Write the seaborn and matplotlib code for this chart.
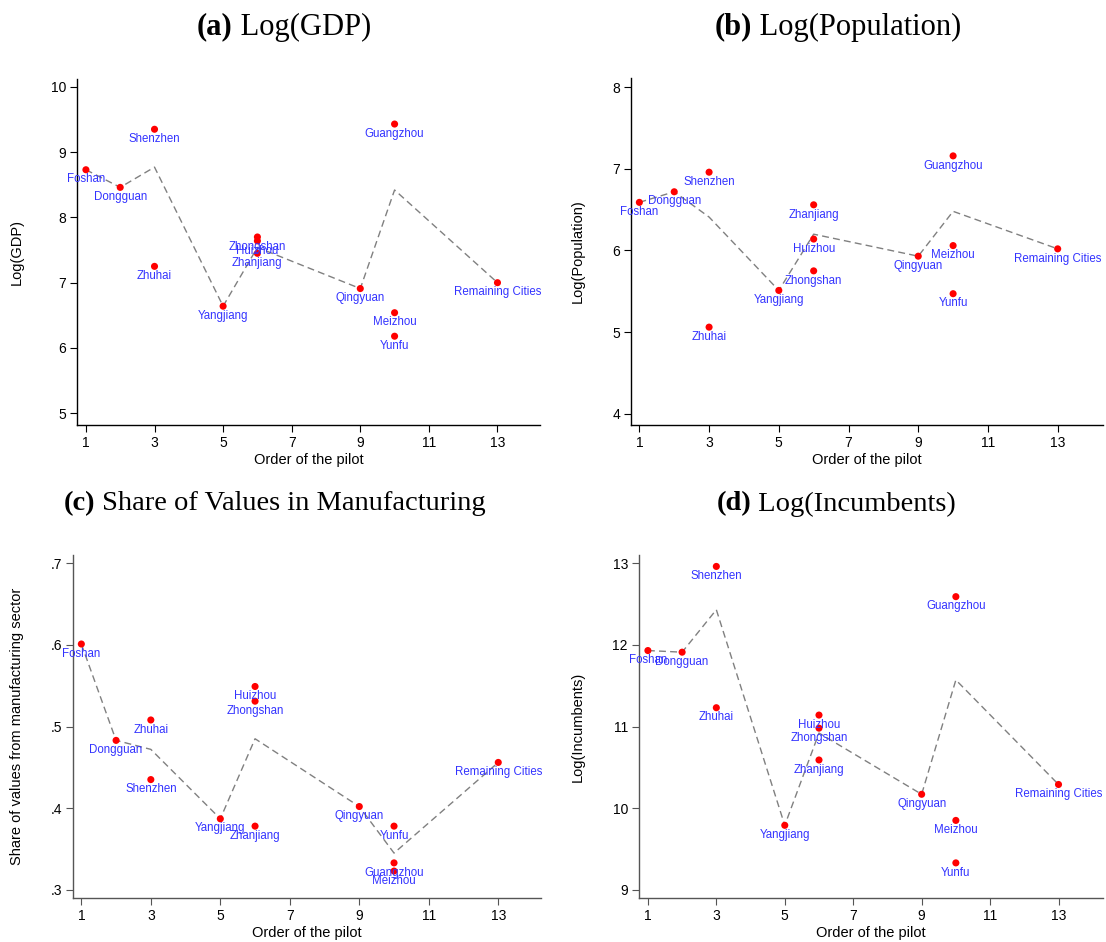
import matplotlib
matplotlib.use("Agg")
import matplotlib.pyplot as plt
import seaborn as sns

# ---------------- data ----------------
cities = ["Foshan", "Dongguan", "Shenzhen", "Zhuhai", "Yangjiang", "Zhongshan",
          "Huizhou", "Zhanjiang", "Qingyuan", "Guangzhou", "Meizhou", "Yunfu",
          "Remaining Cities"]
pilot_order = [1, 2, 3, 3, 5, 6, 6, 6, 9, 10, 10, 10, 13]

log_gdp = [8.73, 8.46, 9.35, 7.25, 6.64, 7.70, 7.64, 7.45, 6.91, 9.43, 6.54, 6.18, 7.00]
log_pop = [6.59, 6.72, 6.96, 5.06, 5.51, 5.75, 6.14, 6.56, 5.93, 7.16, 6.06, 5.47, 6.02]
manuf_share = [0.601, 0.483, 0.435, 0.508, 0.387, 0.531, 0.549, 0.378, 0.402,
               0.333, 0.323, 0.378, 0.456]
log_incumb = [11.93, 11.91, 12.96, 11.23, 9.79, 10.98, 11.14, 10.59, 10.17,
              12.59, 9.85, 9.33, 10.29]

# dashed group line
line_order = [1, 2, 3, 5, 6, 9, 10, 13]
gdp_line = [8.73, 8.46, 8.77, 6.64, 7.54, 6.91, 8.42, 7.00]
pop_line = [6.59, 6.72, 6.41, 5.51, 6.20, 5.93, 6.48, 6.02]
manuf_line = [0.601, 0.483, 0.472, 0.387, 0.485, 0.402, 0.345, 0.456]
incumb_line = [11.93, 11.91, 12.43, 9.79, 10.92, 10.17, 11.57, 10.29]

x_ticks = [1, 3, 5, 7, 9, 11, 13]
gdp_ticks = [5, 6, 7, 8, 9, 10]
pop_ticks = [4, 5, 6, 7, 8]
manuf_ticks = [0.3, 0.4, 0.5, 0.6, 0.7]
manuf_tick_labels = [".3", ".4", ".5", ".6", ".7"]
incumb_ticks = [9, 10, 11, 12, 13]

titles = [("(a)", " Log(GDP)"), ("(b)", " Log(Population)"),
          ("(c)", " Share of Values in Manufacturing"), ("(d)", " Log(Incumbents)")]
ylabels = ["Log(GDP)", "Log(Population)", "Share of values from manufacturing sector",
           "Log(Incumbents)"]
xlabel = "Order of the pilot"

# ---------------- style ----------------
sns.set_theme(style="ticks")
plt.rcParams["font.family"] = ["Liberation Sans", "DejaVu Sans"]
plt.rcParams["text.color"] = "black"
plt.rcParams["axes.labelcolor"] = "black"
plt.rcParams["xtick.color"] = "black"
plt.rcParams["ytick.color"] = "black"

W, H = 1106, 942
fig = plt.figure(figsize=(W / 100, H / 100), dpi=100)

def px_axes(left, right, top, bottom):
    return fig.add_axes([left / W, 1 - bottom / H, (right - left) / W, (bottom - top) / H])

panels = [
    dict(box=(77, 540, 79, 425), xlim=(0.74, 14.24), ylim=(4.82, 10.12),
         vals=log_gdp, line=gdp_line, yt=gdp_ticks, ytl=[str(t) for t in gdp_ticks],
         spine="black", ylab_dx=60, title_x=284, title_y=27, tsize=22),
    dict(box=(631, 1103, 78, 425), xlim=(0.76, 14.3), ylim=(3.86, 8.115),
         vals=log_pop, line=pop_line, yt=pop_ticks, ytl=[str(t) for t in pop_ticks],
         spine="black", ylab_dx=53, title_x=838, title_y=27, tsize=22),
    dict(box=(73, 541, 555, 898), xlim=(0.76, 14.23), ylim=(0.29, 0.71),
         vals=manuf_share, line=manuf_line, yt=manuf_ticks, ytl=manuf_tick_labels,
         spine="#555555", ylab_dx=56, title_x=275, title_y=504, tsize=20.5),
    dict(box=(639, 1103, 555, 898), xlim=(0.74, 14.3), ylim=(8.9, 13.1),
         vals=log_incumb, line=incumb_line, yt=incumb_ticks, ytl=[str(t) for t in incumb_ticks],
         spine="#555555", ylab_dx=61, title_x=836, title_y=504, tsize=20.5),
]

label_color = "#3333ff"

for i, p in enumerate(panels):
    l, r, t, b = p["box"]
    ax = px_axes(l, r, t, b)
    wpx, hpx = r - l, b - t

    sns.lineplot(x=line_order, y=p["line"], ax=ax, color="#808080",
                 linewidth=1.0, linestyle="--", zorder=2)
    ax.lines[-1].set_dashes((5, 3))
    sns.scatterplot(x=pilot_order, y=p["vals"], ax=ax, color="#ff0000", s=26,
                    edgecolor="none", linewidth=0, zorder=3)
    for c, o, v in zip(cities, pilot_order, p["vals"]):
        ax.annotate(c, (o, v), xytext=(0, -9.7), textcoords="offset pixels",
                    ha="center", va="center", color=label_color, fontsize=8.3, zorder=4)

    ax.set_xlim(*p["xlim"])
    ax.set_ylim(*p["ylim"])
    ax.set_xticks(x_ticks)
    ax.set_xticklabels([str(x) for x in x_ticks])
    ax.set_yticks(p["yt"])
    ax.set_yticklabels(p["ytl"])
    ax.tick_params(axis="both", direction="out", length=5, width=0.8,
                   labelsize=10, labelcolor="black", pad=3)
    for s in ("top", "right"):
        ax.spines[s].set_visible(False)
    for s in ("left", "bottom"):
        ax.spines[s].set_color(p["spine"])
        ax.spines[s].set_linewidth(1.0)
    ax.tick_params(axis="both", color=p["spine"])

    ax.set_xlabel(xlabel, fontsize=10.5, va="center", color="black")
    ax.xaxis.set_label_coords(0.5, -35 / hpx)
    ax.set_ylabel(ylabels[i], fontsize=10.5, va="center", color="black")
    ax.yaxis.set_label_coords(-p["ylab_dx"] / wpx, 0.5)
    ax.set_facecolor("white")

    # title: bold panel letter + regular text, serif
    tag, txt = titles[i]
    ty = 1 - p["title_y"] / H
    t1 = fig.text(0, ty, tag, fontsize=p["tsize"], fontweight="bold",
                  family="Liberation Serif", ha="left", va="center", color="black")
    t2 = fig.text(0, ty, txt, fontsize=p["tsize"], family="Liberation Serif",
                  ha="left", va="center", color="black")
    fig.canvas.draw()
    rend = fig.canvas.get_renderer()
    w1 = t1.get_window_extent(rend).width
    w2 = t2.get_window_extent(rend).width
    start = p["title_x"] - (w1 + w2) / 2
    t1.set_x(start / W)
    t2.set_x((start + w1) / W)

fig.savefig("out.png", dpi=100, facecolor="white")
